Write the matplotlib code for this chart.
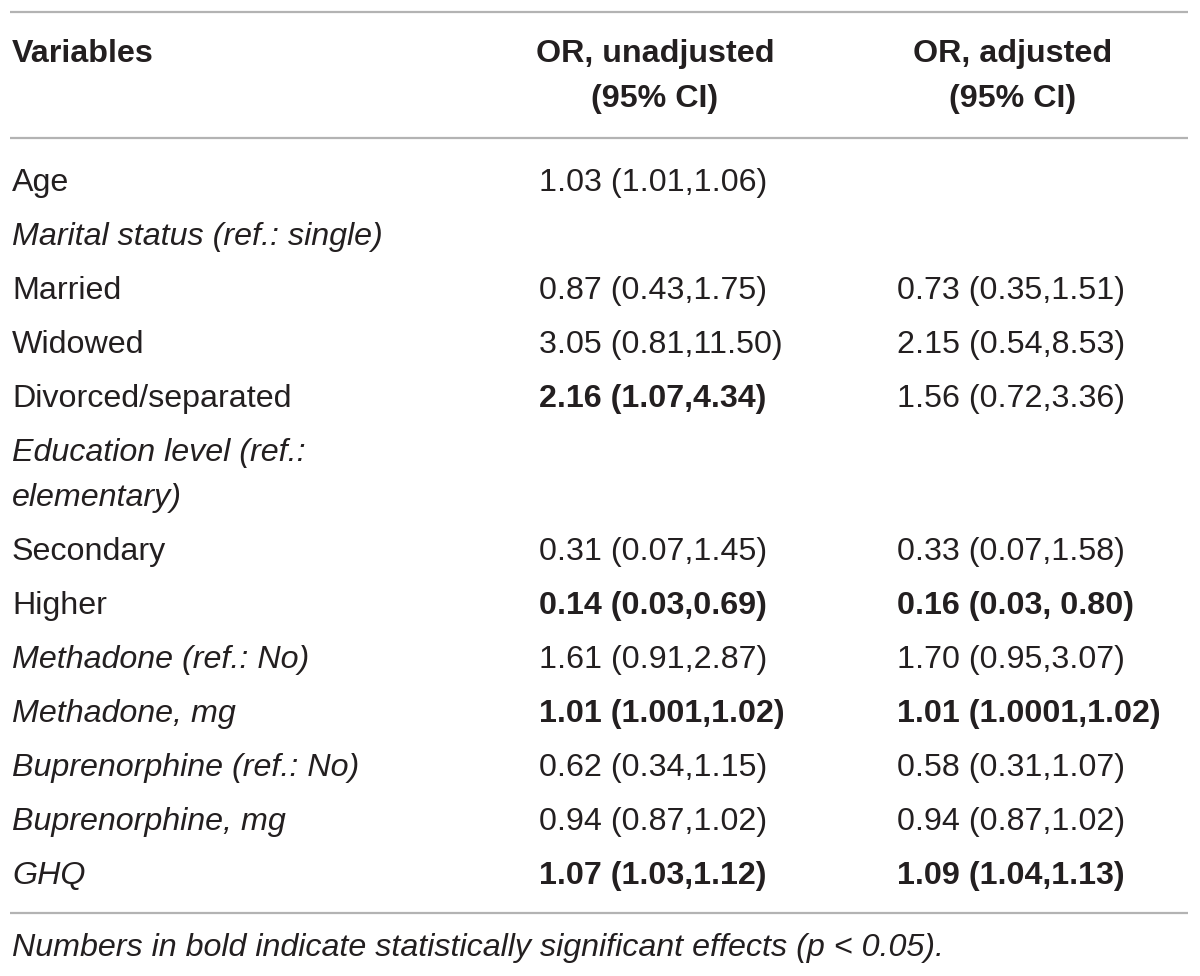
import matplotlib
matplotlib.use("Agg")
import matplotlib.pyplot as plt

# ---- data ----
headers = ["Variables", "OR, unadjusted\n(95% CI)", "OR, adjusted\n(95% CI)"]
variables = ["Age", "Marital status (ref.: single)", "Married", "Widowed",
             "Divorced/separated", "Education level (ref.:\nelementary)",
             "Secondary", "Higher", "Methadone (ref.: No)", "Methadone, mg",
             "Buprenorphine (ref.: No)", "Buprenorphine, mg", "GHQ"]
var_italic = [0, 1, 0, 0, 0, 1, 0, 0, 1, 1, 1, 1, 1]
or_unadjusted = ["1.03 (1.01,1.06)", "", "0.87 (0.43,1.75)", "3.05 (0.81,11.50)",
                 "2.16 (1.07,4.34)", "", "0.31 (0.07,1.45)", "0.14 (0.03,0.69)",
                 "1.61 (0.91,2.87)", "1.01 (1.001,1.02)", "0.62 (0.34,1.15)",
                 "0.94 (0.87,1.02)", "1.07 (1.03,1.12)"]
unadj_bold = [0, 0, 0, 0, 1, 0, 0, 1, 0, 1, 0, 0, 1]
or_adjusted = ["", "", "0.73 (0.35,1.51)", "2.15 (0.54,8.53)", "1.56 (0.72,3.36)",
               "", "0.33 (0.07,1.58)", "0.16 (0.03, 0.80)", "1.70 (0.95,3.07)",
               "1.01 (1.0001,1.02)", "0.58 (0.31,1.07)", "0.94 (0.87,1.02)",
               "1.09 (1.04,1.13)"]
adj_bold = [0, 0, 0, 0, 0, 0, 0, 1, 0, 1, 0, 0, 1]
footnote = "Numbers in bold indicate statistically significant effects (p < 0.05)."

# ---- layout ----
W, H = 1200, 976
fig = plt.figure(figsize=(W / 100, H / 100), dpi=100)
ax = fig.add_axes([0, 0, 1, 1])
ax.set_xlim(0, W)
ax.set_ylim(H, 0)
ax.axis("off")

FONT = "Liberation Sans"
FS = 23.2
TXT = "#231f20"
LINE = "#b3b3b3"
LH = 45          # line height inside a cell
ROW = 54         # row pitch

x_var, x_c2, x_c3 = 12, 539, 897
hc2, hc3 = 655, 1013

# rules
for y in (12, 138, 913):
    ax.plot([10, 1188], [y, y], color=LINE, lw=1.6, solid_capstyle="butt")

# header
hb = 62
ax.text(x_var, hb, headers[0], fontsize=FS, fontweight="bold", family=FONT,
        color=TXT, va="baseline", ha="left")
for hx, h in ((hc2, headers[1]), (hc3, headers[2])):
    for k, line in enumerate(h.split("\n")):
        ax.text(hx, hb + k * LH, line, fontsize=FS, fontweight="bold",
                family=FONT, color=TXT, va="baseline", ha="center")

# body
y = 191
for i, v in enumerate(variables):
    lines = v.split("\n")
    for k, line in enumerate(lines):
        ax.text(x_var, y + k * LH, line, fontsize=FS, family=FONT, color=TXT,
                style="italic" if var_italic[i] else "normal",
                va="baseline", ha="left")
    if or_unadjusted[i]:
        ax.text(x_c2, y, or_unadjusted[i], fontsize=FS, family=FONT, color=TXT,
                fontweight="bold" if unadj_bold[i] else "normal",
                va="baseline", ha="left")
    if or_adjusted[i]:
        ax.text(x_c3, y, or_adjusted[i], fontsize=FS, family=FONT, color=TXT,
                fontweight="bold" if adj_bold[i] else "normal",
                va="baseline", ha="left")
    y += ROW + (len(lines) - 1) * LH

ax.text(x_var, 956, footnote, fontsize=FS, family=FONT, style="italic",
        color=TXT, va="baseline", ha="left")

fig.savefig("out.png", dpi=100)
